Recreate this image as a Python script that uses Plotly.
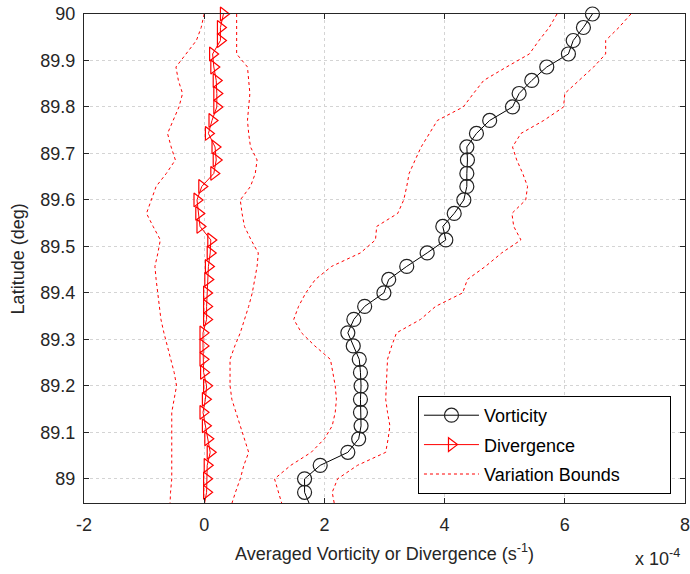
import plotly.graph_objects as go

# Latitude grid (deg)
lat = [90.000, 89.971, 89.943, 89.914, 89.886, 89.857, 89.829, 89.800, 89.771, 89.743,
       89.714, 89.686, 89.657, 89.629, 89.600, 89.571, 89.543, 89.514, 89.486, 89.457,
       89.429, 89.400, 89.371, 89.343, 89.314, 89.286, 89.257, 89.229, 89.200, 89.171,
       89.143, 89.114, 89.086, 89.057, 89.029, 89.000, 88.971]
lat_below = 88.943  # last sample, just below the visible axis range

# Averaged vorticity (x 1e-4 s^-1)
vorticity = [6.46, 6.31, 6.14, 6.06, 5.70, 5.45, 5.24, 5.13, 4.75, 4.53,
             4.37, 4.38, 4.37, 4.37, 4.32, 4.16, 3.97, 4.02, 3.71, 3.37,
             3.07, 2.99, 2.67, 2.49, 2.39, 2.48, 2.58, 2.60, 2.61, 2.60,
             2.60, 2.61, 2.57, 2.39, 1.93, 1.67, 1.67]
vorticity_below = 1.76

# Averaged divergence (x 1e-4 s^-1)
divergence = [0.32, 0.27, 0.27, 0.14, 0.16, 0.20, 0.21, 0.21, 0.13, 0.07,
              0.18, 0.20, 0.16, -0.04, -0.12, -0.09, -0.07, 0.11, 0.10, 0.07,
              0.06, 0.04, 0.04, 0.04, -0.02, -0.02, -0.02, -0.01, 0.04, 0.02,
              -0.02, 0.02, 0.06, 0.10, 0.05, 0.04, 0.04]
divergence_below = 0.00

# Variation bounds (x 1e-4 s^-1), including the sample below the axis
vort_lower = [5.87, 5.74, 5.57, 5.41, 5.03, 4.65, 4.48, 4.31, 3.88, 3.75,
              3.61, 3.51, 3.41, 3.37, 3.32, 3.22, 2.87, 2.85, 2.60, 2.12,
              1.85, 1.69, 1.57, 1.49, 1.62, 1.84, 2.10, 2.14, 2.18, 2.20,
              2.18, 2.13, 2.00, 1.78, 1.44, 1.17, 1.23, 1.30]
vort_upper = [7.10, 6.90, 6.68, 6.68, 6.48, 6.23, 6.00, 5.98, 5.65, 5.27,
              5.13, 5.20, 5.30, 5.38, 5.35, 5.12, 5.15, 5.27, 4.95, 4.68,
              4.38, 4.30, 3.85, 3.60, 3.20, 3.12, 3.05, 3.04, 3.03, 3.02,
              3.05, 3.09, 3.06, 3.02, 2.55, 2.22, 2.13, 2.17]
div_lower = [0.00, -0.05, -0.13, -0.30, -0.47, -0.43, -0.36, -0.42, -0.52, -0.61,
             -0.55, -0.48, -0.63, -0.80, -0.88, -0.96, -0.85, -0.73, -0.77, -0.82,
             -0.80, -0.77, -0.75, -0.72, -0.67, -0.61, -0.55, -0.50, -0.46, -0.50,
             -0.54, -0.54, -0.54, -0.54, -0.54, -0.54, -0.56, -0.57]
div_upper = [0.54, 0.54, 0.54, 0.54, 0.72, 0.74, 0.76, 0.74, 0.72, 0.74,
             0.77, 0.88, 0.85, 0.77, 0.60, 0.63, 0.67, 0.78, 0.90, 0.88,
             0.84, 0.80, 0.74, 0.67, 0.60, 0.51, 0.43, 0.43, 0.43, 0.46,
             0.53, 0.60, 0.68, 0.74, 0.66, 0.60, 0.52, 0.45]

x_ticks = [-2, 0, 2, 4, 6, 8]
y_ticks = [89, 89.1, 89.2, 89.3, 89.4, 89.5, 89.6, 89.7, 89.8, 89.9, 90]
y_ticklabels = ["89", "89.1", "89.2", "89.3", "89.4", "89.5", "89.6", "89.7", "89.8", "89.9", "90"]

lat_full = lat + [lat_below]
FONT = "Liberation Sans, Arial, sans-serif"
RED = "#ff0000"
PAD = "\u00a0" * 9

fig = go.Figure()

# tails below the axis (lines only, clipped)
fig.add_trace(go.Scatter(x=[vorticity[-1], vorticity_below], y=[lat[-1], lat_below], mode="lines",
                         line=dict(color="black", width=1), showlegend=False, hoverinfo="skip"))
fig.add_trace(go.Scatter(x=[divergence[-1], divergence_below], y=[lat[-1], lat_below], mode="lines",
                         line=dict(color=RED, width=1), showlegend=False, hoverinfo="skip"))

fig.add_trace(go.Scatter(x=vorticity, y=lat, mode="lines+markers", name="Vorticity",
                         legendgroup="v",
                         line=dict(color="black", width=1),
                         marker=dict(symbol="circle-open", size=14, color="#222222",
                                     line=dict(width=1.2, color="#222222")),
                         cliponaxis=False))
fig.add_trace(go.Scatter(x=divergence, y=lat, mode="lines+markers", name="Divergence",
                         legendgroup="d",
                         line=dict(color=RED, width=1),
                         marker=dict(symbol="triangle-right-open", size=12, color=RED,
                                     line=dict(width=1.2, color=RED)),
                         cliponaxis=False))

bounds = [vort_lower, vort_upper, div_lower, div_upper]
for i, b in enumerate(bounds):
    fig.add_trace(go.Scatter(x=b, y=lat_full, mode="lines", name="Variation Bounds" + PAD,
                             legendgroup="bounds", showlegend=(i == 0),
                             line=dict(color=RED, width=1, dash="dot")))

axis_common = dict(showline=True, linecolor="#262626", linewidth=1, mirror="ticks",
                   ticks="inside", ticklen=5, tickcolor="#262626", automargin=False,
                   ticklabeloverflow="allow",
                   showgrid=True, gridcolor="#d4d4d4", griddash="dot", gridwidth=1,
                   zeroline=False, tickfont=dict(family=FONT, size=18, color="#262626"))

fig.update_xaxes(range=[-2, 8], tickvals=x_ticks, ticktext=[str(t) for t in x_ticks],
                 ticklabelstandoff=5, **axis_common)
fig.update_yaxes(range=[88.948, 90], tickvals=y_ticks, ticktext=y_ticklabels,
                 ticklabelstandoff=4, **axis_common)

fig.update_layout(
    width=690, height=574,
    margin=dict(l=84, r=5, t=14, b=71, autoexpand=False),
    paper_bgcolor="white", plot_bgcolor="white",
    font=dict(family=FONT, size=18, color="#262626"),
    legend=dict(x=0.5557, y=0.2188, xanchor="left", yanchor="top",
                bordercolor="black", borderwidth=1, bgcolor="white",
                tracegroupgap=3, itemwidth=55,
                font=dict(family=FONT, size=18, color="black")),
    annotations=[
        dict(text="Averaged Vorticity or Divergence (s<sup>-1</sup>)", xref="paper", yref="paper",
             x=0.5, y=-0.102, xanchor="center", yanchor="middle", showarrow=False,
             font=dict(family=FONT, size=18, color="#262626")),
        dict(text="x 10<sup>-4</sup>", xref="paper", yref="paper",
             x=0.955, y=-0.112, xanchor="center", yanchor="middle", showarrow=False,
             font=dict(family=FONT, size=18, color="#262626")),
        dict(text="Latitude (deg)", xref="paper", yref="paper", textangle=-90,
             x=-0.11, y=0.5, xanchor="center", yanchor="middle", showarrow=False,
             font=dict(family=FONT, size=18, color="#262626")),
    ],
)

# remove the default page margin so the 690x574 figure fills the window exactly
fig.write_html("out.html", config={"displayModeBar": False},
               post_script="document.body.style.margin='0';")
